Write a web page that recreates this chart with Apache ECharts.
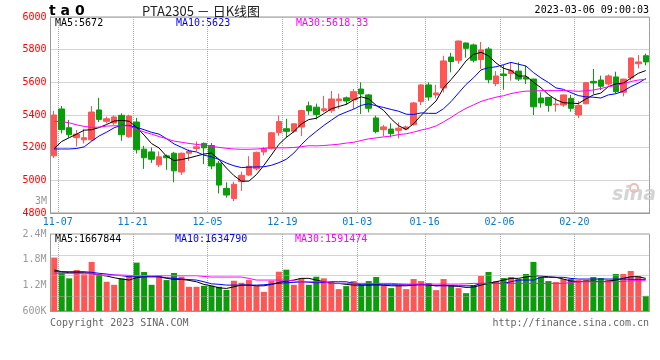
<!DOCTYPE html>
<html><head><meta charset="utf-8">
<script src="https://cdn.jsdelivr.net/npm/echarts@6/dist/echarts.min.js"></script>
<style>html,body{margin:0;padding:0;background:#fff}#c{width:660px;height:360px}</style>
</head><body><div id="c"></div>
<script>
const dates = ['2022-11-07','2022-11-08','2022-11-09','2022-11-10','2022-11-11','2022-11-14','2022-11-15','2022-11-16','2022-11-17','2022-11-18',
'2022-11-21','2022-11-22','2022-11-23','2022-11-24','2022-11-25','2022-11-28','2022-11-29','2022-11-30','2022-12-01','2022-12-02',
'2022-12-05','2022-12-06','2022-12-07','2022-12-08','2022-12-09','2022-12-12','2022-12-13','2022-12-14','2022-12-15','2022-12-16',
'2022-12-19','2022-12-20','2022-12-21','2022-12-22','2022-12-23','2022-12-26','2022-12-27','2022-12-28','2022-12-29','2022-12-30',
'2023-01-03','2023-01-04','2023-01-05','2023-01-06','2023-01-09','2023-01-10','2023-01-11','2023-01-12','2023-01-13','2023-01-16',
'2023-01-17','2023-01-18','2023-01-19','2023-01-20','2023-01-30','2023-01-31','2023-02-01','2023-02-02','2023-02-03','2023-02-06',
'2023-02-07','2023-02-08','2023-02-09','2023-02-10','2023-02-13','2023-02-14','2023-02-15','2023-02-16','2023-02-17','2023-02-20',
'2023-02-21','2023-02-22','2023-02-23','2023-02-24','2023-02-27','2023-02-28','2023-03-01','2023-03-02','2023-03-03','2023-03-06'];
const tickLabels = ['11-07','11-21','12-05','12-19','01-03','01-16','02-06','02-20'];

const opens = [5150,5437,5322,5261,5248,5248,5431,5361,5351,5398, 5267,5357,5191,5174,5095,5150,5166,5051,5166,5195,
5226,5213,5105,4951,4889,4992,5033,5071,5174,5194, 5293,5316,5300,5326,5456,5448,5427,5427,5488,5505,
5492,5559,5523,5382,5310,5314,5306,5314,5341,5482, 5584,5523,5565,5755,5735,5841,5829,5739,5804,5592,
5651,5653,5669,5631,5620,5504,5508,5463,5461,5502, 5400,5469,5606,5614,5590,5633,5539,5627,5714,5763];
const closes = [5400,5310,5279,5283,5261,5418,5373,5377,5388,5279, 5394,5187,5138,5129,5144,5138,5058,5166,5178,5205,
5199,5088,4971,4910,4976,5031,5086,5171,5194,5291, 5360,5300,5346,5427,5425,5403,5438,5498,5498,5486,
5543,5529,5441,5298,5327,5286,5319,5327,5474,5584, 5510,5535,5731,5727,5853,5808,5735,5798,5616,5639,
5641,5673,5620,5620,5450,5474,5459,5467,5523,5441, 5459,5598,5596,5576,5639,5543,5620,5749,5725,5725];
const lows = [5137,5287,5261,5207,5226,5242,5357,5349,5340,5242, 5261,5164,5070,5107,5082,5064,4988,5033,5119,5178,
5099,5068,4920,4894,4873,4935,5027,5060,5153,5188, 5273,5261,5291,5271,5401,5373,5417,5413,5438,5462,
5437,5406,5416,5288,5270,5263,5257,5306,5335,5461, 5488,5502,5539,5661,5714,5751,5722,5682,5594,5576,
5555,5610,5608,5590,5400,5445,5420,5420,5449,5420, 5380,5465,5529,5553,5580,5531,5514,5612,5686,5704];
const highs = [5425,5455,5369,5308,5316,5455,5505,5390,5398,5410, 5402,5382,5211,5201,5177,5158,5174,5170,5189,5238,
5232,5228,5119,4988,4992,5053,5148,5176,5204,5295, 5397,5377,5350,5432,5482,5470,5517,5547,5531,5513,
5559,5600,5529,5396,5339,5349,5355,5335,5480,5588, 5600,5584,5763,5780,5855,5843,5837,5847,5816,5669,
5706,5722,5722,5702,5622,5539,5510,5506,5525,5523, 5486,5600,5682,5641,5649,5665,5622,5751,5767,5776];

const ma5 = [5195,5238,5261,5283,5307,5310,5323,5342,5363,5367, 5362,5325,5277,5225,5198,5147,5121,5127,5137,5149,
5161,5167,5128,5075,5029,4995,4995,5035,5092,5155, 5220,5263,5298,5345,5372,5380,5408,5438,5452,5465,
5493,5511,5499,5459,5428,5376,5334,5311,5347,5398, 5443,5486,5567,5617,5671,5731,5771,5784,5762,5719,
5686,5673,5638,5639,5601,5567,5525,5494,5475,5473, 5470,5498,5523,5534,5574,5590,5595,5625,5655,5672];
const ma10 = [5192,5192,5192,5195,5205,5240,5272,5295,5322,5337, 5336,5324,5310,5294,5283,5255,5223,5202,5181,5174,
5154,5144,5128,5106,5089,5078,5081,5082,5083,5092, 5108,5129,5167,5218,5263,5300,5336,5368,5399,5418,
5436,5459,5469,5456,5446,5434,5423,5405,5403,5413, 5410,5410,5439,5482,5535,5587,5628,5676,5690,5695,
5708,5722,5711,5700,5660,5627,5599,5566,5557,5537, 5519,5511,5509,5504,5523,5530,5546,5574,5595,5623];
const ma30 = [5361,5360,5352,5340,5330,5324,5326,5332,5334,5334, 5333,5312,5296,5283,5268,5255,5240,5233,5226,5220,
5215,5208,5202,5196,5192,5190,5190,5192,5195,5201, 5199,5199,5201,5206,5212,5211,5213,5217,5221,5228,
5233,5244,5254,5260,5266,5271,5280,5285,5295,5308, 5318,5333,5358,5385,5415,5441,5462,5483,5497,5509,
5518,5531,5540,5546,5547,5549,5550,5549,5550,5548, 5545,5548,5553,5562,5573,5581,5591,5605,5614,5618];

const volumes = [2340000,1902000,1722000,1971000,1842000,2211000,1842000,1620000,1530000,1722000,
1821000,2190000,1911000,1530000,1821000,1671000,1881000,1770000,1470000,1470000,
1500000,1500000,1470000,1380000,1650000,1590000,1671000,1500000,1320000,1650000,
1920000,1980000,1530000,1722000,1530000,1770000,1722000,1620000,1401000,1491000,
1641000,1521000,1641000,1761000,1521000,1431000,1521000,1401000,1701000,1641000,
1581000,1371000,1701000,1521000,1431000,1281000,1521000,1791000,1911000,1641000,
1731000,1761000,1701000,1851000,2211000,1761000,1641000,1611000,1701000,1701000,
1671000,1671000,1761000,1731000,1671000,1851000,1851000,1941000,1791000,1200000];
const volMa5 = [1971000,1920000,1890000,1890000,1890000,1872000,1821000,1791000,1740000,1701000,
1671000,1740000,1770000,1770000,1770000,1722000,1692000,1692000,1662000,1620000,
1542000,1500000,1440000,1422000,1470000,1521000,1521000,1500000,1500000,1542000,
1602000,1641000,1671000,1722000,1722000,1671000,1620000,1572000,1572000,1542000,
1521000,1521000,1521000,1530000,1521000,1500000,1500000,1500000,1521000,1542000,
1521000,1500000,1521000,1500000,1482000,1452000,1461000,1521000,1572000,1620000,
1671000,1722000,1722000,1761000,1800000,1791000,1770000,1752000,1701000,1641000,
1620000,1641000,1641000,1620000,1641000,1671000,1722000,1770000,1770000,1722000];
const volMa10 = [1920000,1920000,1920000,1920000,1920000,1900000,1872000,1850000,1821000,1800000,
1770000,1770000,1770000,1770000,1770000,1740000,1720000,1701000,1685000,1671000,
1620000,1560000,1545000,1521000,1521000,1521000,1521000,1521000,1530000,1550000,
1572000,1590000,1602000,1620000,1605000,1590000,1600000,1620000,1620000,1620000,
1575000,1530000,1530000,1530000,1530000,1530000,1530000,1530000,1530000,1530000,
1530000,1500000,1500000,1500000,1500000,1500000,1500000,1572000,1572000,1572000,
1572000,1620000,1671000,1671000,1671000,1752000,1752000,1752000,1752000,1720000,
1701000,1701000,1701000,1701000,1701000,1701000,1700000,1695000,1692000,1692000];
const volMa30 = [1872000,1872000,1872000,1872000,1872000,1872000,1821000,1821000,1821000,1821000,
1810000,1800000,1800000,1800000,1800000,1800000,1800000,1800000,1800000,1800000,
1780000,1761000,1761000,1761000,1761000,1761000,1720000,1671000,1671000,1671000,
1671000,1671000,1645000,1620000,1620000,1620000,1620000,1572000,1572000,1572000,
1572000,1572000,1572000,1572000,1572000,1572000,1560000,1551000,1551000,1551000,
1551000,1551000,1551000,1551000,1551000,1560000,1572000,1572000,1572000,1572000,
1572000,1572000,1572000,1572000,1572000,1572000,1572000,1572000,1572000,1600000,
1620000,1620000,1620000,1620000,1620000,1620000,1635000,1650000,1650000,1650000];
const volGridValues = [1200000, 1800000, 2400000];

const candleData = dates.map((d, i) => [opens[i], closes[i], lows[i], highs[i]]);
const labelIdx = new Set(dates.map((d, i) => tickLabels.indexOf(d.slice(5)) >= 0 ? i : -1).filter(i => i >= 0));

const UP = '#ff5555', DOWN = '#0a9c0a';
const MONO = "'DejaVu Sans Mono', monospace";
const GRID_LINE = { type: 'dotted', color: '#aaaaaa', width: 1 };

function xAxisFor(grid, showLabel) {
  return {
    type: 'category', gridIndex: grid, data: dates, boundaryGap: true,
    axisLine: { show: true, lineStyle: { color: '#999' } },
    axisTick: { show: false },
    axisLabel: {
      show: showLabel, interval: (i) => labelIdx.has(i),
      formatter: (v) => v.slice(5), color: '#0a78cc', fontFamily: MONO, fontSize: 10,
      margin: 4, padding: [0, 0, 0, 7]
    },
    splitLine: { show: true, interval: (i) => labelIdx.has(i - 1), lineStyle: GRID_LINE }
  };
}
function fmtVol(v) { return v >= 1000000 ? (v / 1000000) + 'M' : (v / 1000) + 'K'; }

const chart = echarts.init(document.getElementById('c'), null, { renderer: 'canvas' });
chart.setOption({
  animation: false,
  backgroundColor: '#fff',
  grid: [
    { left: 50.5, right: 10.5, top: 17, height: 196, show: true, borderColor: '#999', borderWidth: 1 },
    { left: 50.5, right: 10.5, top: 234, height: 77, show: true, borderColor: '#999', borderWidth: 1 }
  ],
  xAxis: [xAxisFor(0, true), xAxisFor(1, false)],
  yAxis: [
    { type: 'value', gridIndex: 0, position: 'left', min: 4800, max: 6000, interval: 200,
      axisLine: { show: true, lineStyle: { color: '#999' } }, axisTick: { show: false },
      axisLabel: { color: '#ff0000', fontFamily: MONO, fontSize: 10, margin: 4, formatter: (v) => String(v) },
      splitLine: { show: true, lineStyle: GRID_LINE } },
    { type: 'value', gridIndex: 1, position: 'left', min: 750000, max: 3042000,
      axisLine: { show: true, lineStyle: { color: '#999' } }, axisTick: { show: false },
      axisLabel: { show: false }, splitLine: { show: false } },
    { type: 'value', gridIndex: 1, position: 'left', offset: 0, min: 600000, max: 2400000, interval: 600000,
      axisLine: { show: false }, axisTick: { show: false },
      axisLabel: { color: '#999', fontFamily: MONO, fontSize: 10, margin: 4, formatter: fmtVol },
      splitLine: { show: false } }
  ],
  series: [
    { type: 'candlestick', xAxisIndex: 0, yAxisIndex: 0, data: candleData, barWidth: 6,
      itemStyle: { color: UP, color0: DOWN, borderColor: UP, borderColor0: DOWN, borderWidth: 1 } },
    { type: 'line', xAxisIndex: 0, yAxisIndex: 0, data: ma5, symbol: 'none', lineStyle: { color: '#000', width: 1 } },
    { type: 'line', xAxisIndex: 0, yAxisIndex: 0, data: ma10, symbol: 'none', lineStyle: { color: '#0000ff', width: 1 } },
    { type: 'line', xAxisIndex: 0, yAxisIndex: 0, data: ma30, symbol: 'none', lineStyle: { color: '#ff00ff', width: 1 } },
    { type: 'bar', xAxisIndex: 1, yAxisIndex: 1, data: volumes, barWidth: 6,
      itemStyle: { color: (p) => closes[p.dataIndex] >= opens[p.dataIndex] ? UP : DOWN },
      markLine: { silent: true, symbol: 'none', label: { show: false }, lineStyle: GRID_LINE,
        data: volGridValues.map(v => ({ yAxis: v })) } },
    { type: 'line', xAxisIndex: 1, yAxisIndex: 1, data: volMa5, symbol: 'none', lineStyle: { color: '#000', width: 1 } },
    { type: 'line', xAxisIndex: 1, yAxisIndex: 1, data: volMa10, symbol: 'none', lineStyle: { color: '#0000ff', width: 1 } },
    { type: 'line', xAxisIndex: 1, yAxisIndex: 1, data: volMa30, symbol: 'none', lineStyle: { color: '#ff00ff', width: 1 } }
  ],
  graphic: [
    { type: 'text', left: 49, top: 4, style: { text: 't a 0', font: "bold 14px 'DejaVu Sans'", fill: '#000' } },
    { type: 'text', left: 142, top: 5, style: { text: 'PTA2305 － 日K线图', font: "13px 'Noto Sans CJK SC'", fill: '#222' } },
    { type: 'text', right: 11, top: 5, style: { text: '2023-03-06 09:00:03', font: "10px 'DejaVu Sans Mono'", fill: '#000' } },
    { type: 'text', left: 55, top: 18, style: { text: 'MA5:5672', font: "10px 'DejaVu Sans Mono'", fill: '#000' } },
    { type: 'text', left: 176, top: 18, style: { text: 'MA10:5623', font: "10px 'DejaVu Sans Mono'", fill: '#0000ff' } },
    { type: 'text', left: 296, top: 18, style: { text: 'MA30:5618.33', font: "10px 'DejaVu Sans Mono'", fill: '#ff00ff' } },
    { type: 'text', left: 55, top: 234, style: { text: 'MA5:1667844', font: "10px 'DejaVu Sans Mono'", fill: '#000' } },
    { type: 'text', left: 175, top: 234, style: { text: 'MA10:1634790', font: "10px 'DejaVu Sans Mono'", fill: '#0000ff' } },
    { type: 'text', left: 295, top: 234, style: { text: 'MA30:1591474', font: "10px 'DejaVu Sans Mono'", fill: '#ff00ff' } },
    { type: 'text', left: 35, top: 196, style: { text: '3M', font: "10px 'DejaVu Sans Mono'", fill: '#999' } },
    { type: 'text', left: 50, top: 318, style: { text: 'Copyright 2023 SINA.COM', font: "10px 'DejaVu Sans Mono'", fill: '#666' } },
    { type: 'text', right: 11, top: 318, style: { text: 'http://finance.sina.com.cn', font: "10px 'DejaVu Sans Mono'", fill: '#666' } },
    { type: 'text', left: 612, top: 186, style: { text: 'sina', font: "italic bold 19px 'DejaVu Sans'", fill: '#d4d4d4' } },
    { type: 'circle', shape: { cx: 634, cy: 188, r: 4 }, style: { fill: 'none', stroke: '#f2b8b8', lineWidth: 2 } }
  ]
});
</script>
</body></html>
